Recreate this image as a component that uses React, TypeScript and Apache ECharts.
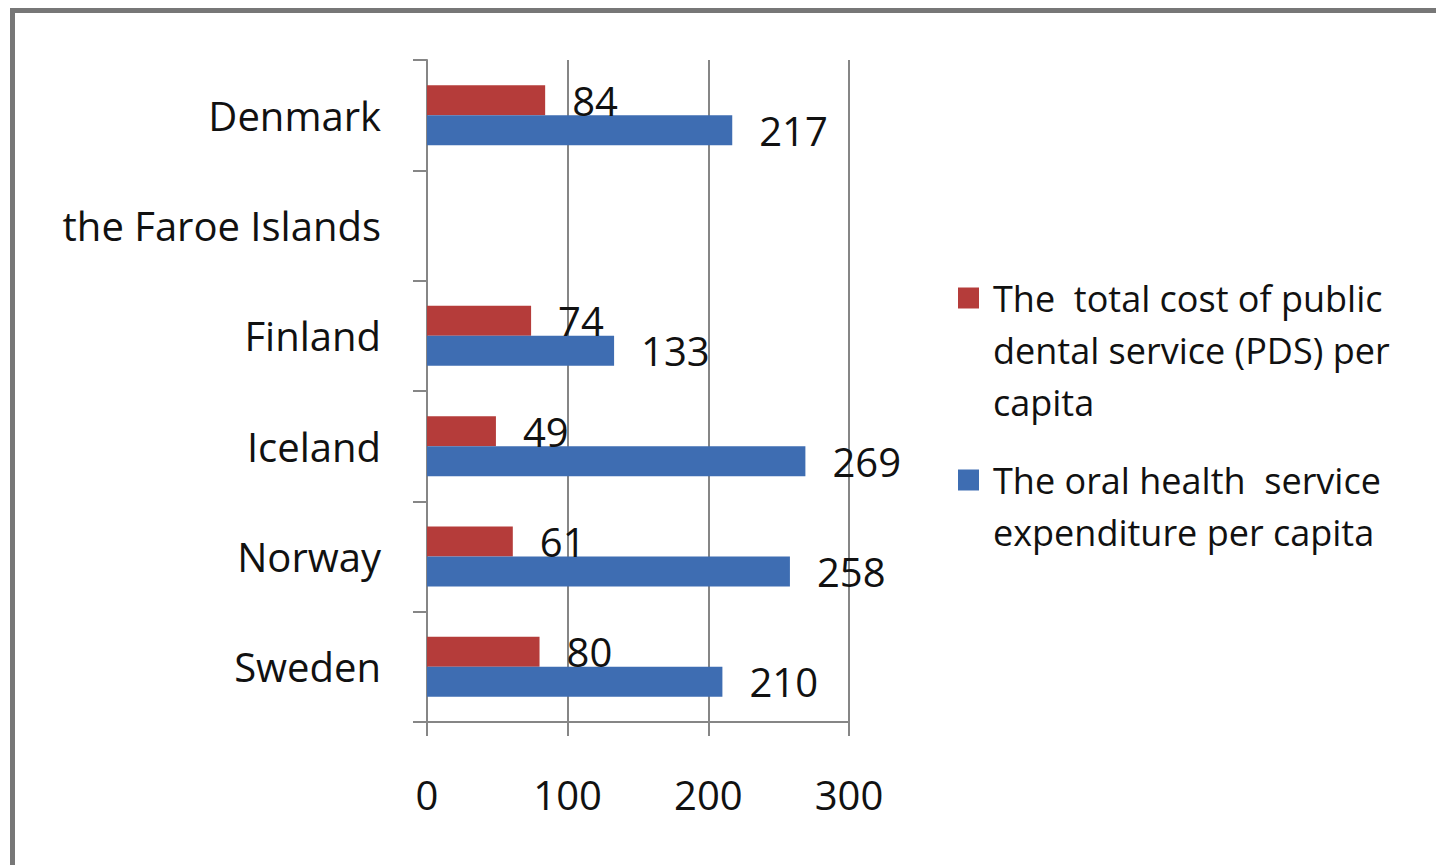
import React, { useEffect, useRef } from "react";
import * as echarts from "echarts";

const countries = ["Denmark", "the Faroe Islands", "Finland", "Iceland", "Norway", "Sweden"];
const pdsCost = [84, null, 74, 49, 61, 80];
const oralExpenditure = [217, null, 133, 269, 258, 210];
const seriesNames = [
  "The total cost of public dental service (PDS) per capita",
  "The oral health service expenditure per capita",
];
const legendLines = [
  ["The  total cost of public", "dental service (PDS) per", "capita"],
  ["The oral health  service", "expenditure per capita"],
];
const xTicks = { min: 0, max: 300, interval: 100 };

const FONT = "'Open Sans', 'Noto Sans', sans-serif";
const RED = "#B53C3A";
const BLUE = "#3E6DB2";
const GRAY = "#868686";

// prepend blank lines so the first text line sits level with the legend icon
const legendText = (lines: string[]) =>
  lines
    .slice(1)
    .map(() => "{b| }")
    .concat(lines.map((l) => "{t|" + l + "}"))
    .join("\n");

export default function App() {
  const ref = useRef<HTMLDivElement>(null);
  useEffect(() => {
    document.body.style.margin = "0";
    const chart = echarts.init(ref.current!, null, { renderer: "svg" });
    const labelStyle = {
      show: true,
      position: "right",
      distance: 27,
      fontSize: 40,
      fontFamily: FONT,
      color: "#111",
    };
    const legendTextStyle = {
      fontSize: 36,
      fontFamily: FONT,
      color: "#111",
      lineHeight: 52,
      padding: [0, 0, 0, 9],
      rich: {
        t: { fontSize: 36, fontFamily: FONT, color: "#111", lineHeight: 52 },
        b: { fontSize: 36, fontFamily: FONT, color: "#111", lineHeight: 52 },
      },
    };
    const legendCommon = {
      orient: "vertical",
      left: 958,
      padding: 0,
      icon: "rect",
      itemWidth: 21,
      itemHeight: 21,
      selectedMode: false,
      textStyle: legendTextStyle,
    };
    chart.setOption({
      animation: false,
      backgroundColor: "#fff",
      graphic: [
        {
          type: "rect",
          shape: { x: 12.5, y: 10.5, width: 1600, height: 1000 },
          style: { fill: "none", stroke: "#777", lineWidth: 5 },
          silent: true,
        },
      ],
      legend: [
        {
          ...legendCommon,
          top: 168,
          data: [seriesNames[0]],
          formatter: () => legendText(legendLines[0]),
        },
        {
          ...legendCommon,
          top: 402,
          data: [seriesNames[1]],
          formatter: () => legendText(legendLines[1]),
        },
      ],
      grid: { left: 427, right: 587, top: 60, bottom: 143 },
      xAxis: {
        type: "value",
        min: xTicks.min,
        max: xTicks.max,
        interval: xTicks.interval,
        axisLine: { show: true, lineStyle: { color: GRAY, width: 2 } },
        axisTick: { show: true, length: 14, lineStyle: { color: GRAY, width: 2 } },
        splitLine: { show: true, lineStyle: { color: GRAY, width: 2 } },
        axisLabel: { fontSize: 40, fontFamily: FONT, color: "#111", margin: 52 },
      },
      yAxis: {
        type: "category",
        data: countries,
        inverse: true,
        axisLine: { show: true, lineStyle: { color: GRAY, width: 2 } },
        axisTick: { show: true, length: 14, lineStyle: { color: GRAY, width: 2 } },
        axisLabel: { fontSize: 40, fontFamily: FONT, color: "#111", margin: 46 },
      },
      series: [
        {
          name: seriesNames[0],
          type: "bar",
          data: pdsCost,
          barWidth: 30,
          barGap: "0%",
          itemStyle: { color: RED },
          label: labelStyle,
        },
        {
          name: seriesNames[1],
          type: "bar",
          data: oralExpenditure,
          barWidth: 30,
          barGap: "0%",
          itemStyle: { color: BLUE },
          label: labelStyle,
        },
      ],
    });
    return () => chart.dispose();
  }, []);
  return <div ref={ref} style={{ width: 1436, height: 865 }} />;
}
